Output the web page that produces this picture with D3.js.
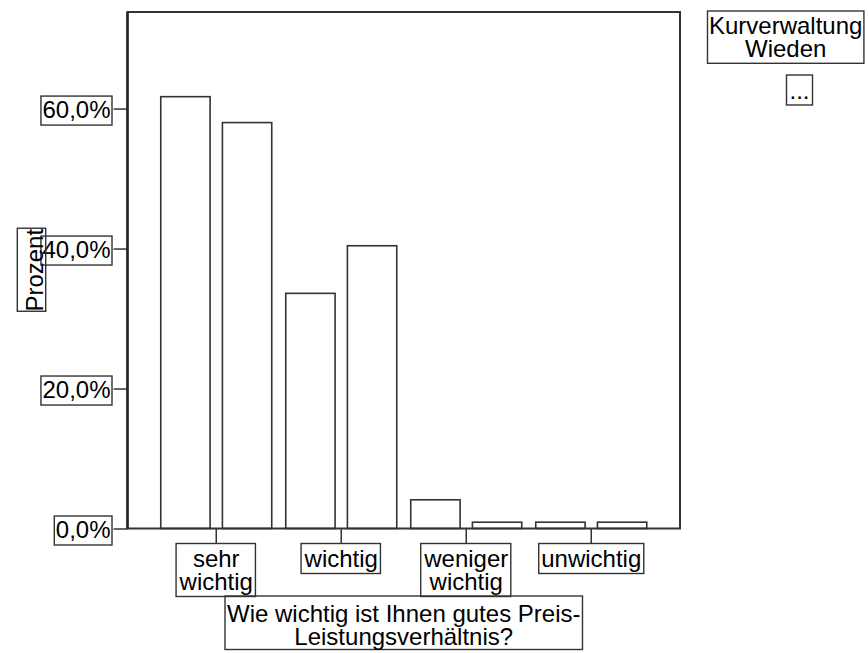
<!DOCTYPE html>
<html><head><meta charset="utf-8">
<script src="https://cdn.jsdelivr.net/npm/d3@7"></script>
<style>
html,body{margin:0;padding:0;background:#fff;}
svg{display:block;font-family:"Liberation Sans",Arial,sans-serif;}
</style></head><body>
<svg id="chart" width="868" height="653"></svg>
<script>
// ---- data ----
const categories = ["sehr wichtig", "wichtig", "weniger wichtig", "unwichtig"];
const seriesNames = ["Gruppe 1", "Gruppe 2"];
const series1 = [61.7, 33.6, 4.1, 0.9];
const series2 = [58.0, 40.4, 0.9, 0.9];
const yTicks = [0, 20, 40, 60];
const yMax = 73.8;
const yTitle = "Prozent";
const xTitleLines = ["Wie wichtig ist Ihnen gutes Preis-", "Leistungsverhältnis?"];
const legendTitleLines = ["Kurverwaltung", "Wieden"];
const legendItems = ["..."];

// ---- layout ----
const FONT = 24, INK = "#333";
const L = 127.5, R = 680, T = 12, B = 528.5;
const svg = d3.select("#chart");

const x0 = d3.scaleBand().domain(categories).range([L, R]).paddingInner(0.112).paddingOuter(0.266);
const x1 = d3.scaleBand().domain(seriesNames).range([0, x0.bandwidth()]).paddingInner(0.2);
const y = d3.scaleLinear().domain([0, yMax]).range([B, T]);

const data = categories.map((c, i) => ({
  cat: c,
  values: [{s: seriesNames[0], v: series1[i]}, {s: seriesNames[1], v: series2[i]}]
}));

// bars
svg.append("g").selectAll("g").data(data).join("g")
  .attr("transform", d => `translate(${x0(d.cat)},0)`)
  .selectAll("rect").data(d => d.values).join("rect")
  .attr("x", d => x1(d.s)).attr("y", d => y(d.v))
  .attr("width", x1.bandwidth()).attr("height", d => B - y(d.v))
  .attr("fill", "#fff").attr("stroke", INK).attr("stroke-width", 1.6);

// frame
svg.append("rect").attr("x", L).attr("y", T).attr("width", R - L).attr("height", B - T)
  .attr("fill", "none").attr("stroke", INK).attr("stroke-width", 2);
svg.append("line").attr("x1", L).attr("x2", L).attr("y1", T).attr("y2", B)
  .attr("stroke", "#222").attr("stroke-width", 2.4);

// y axis
const fmt = v => d3.format(".1f")(v).replace(".", ",") + "%";
const yAxis = svg.append("g").attr("transform", `translate(${L},0)`)
  .call(d3.axisLeft(y).tickValues(yTicks).tickSize(14).tickPadding(3).tickFormat(fmt));
yAxis.select(".domain").remove();
yAxis.selectAll(".tick line").attr("stroke", INK).attr("stroke-width", 1.5);
yAxis.selectAll(".tick text").attr("font-size", FONT).attr("font-family", "Liberation Sans, Arial, sans-serif")
  .attr("fill", "#000").attr("dy", null).attr("y", 8.6);
yAxis.selectAll(".tick").each(function() {
  const t = d3.select(this).select("text");
  const bb = t.node().getBBox();
  d3.select(this).insert("rect", "text").attr("x", bb.x - 1.5).attr("y", -13)
    .attr("width", bb.width + 3).attr("height", 29)
    .attr("fill", "none").attr("stroke", INK).attr("stroke-width", 1.4);
});

// y title
const yt = svg.append("g").attr("transform", `translate(43.3,${(T + B) / 2}) rotate(-90)`);
const ytText = yt.append("text").attr("text-anchor", "middle").attr("font-size", FONT).attr("fill", "#000").text(yTitle);
const ytw = ytText.node().getBBox().width;
yt.insert("rect", "text").attr("x", -ytw / 2 + 0.5).attr("y", -26).attr("width", ytw).attr("height", 28.4)
  .attr("fill", "none").attr("stroke", INK).attr("stroke-width", 1.4);

// x axis
const xAxis = svg.append("g").attr("transform", `translate(0,${B})`)
  .call(d3.axisBottom(x0).tickSize(15).tickFormat(d => d));
xAxis.select(".domain").remove();
xAxis.selectAll(".tick line").attr("stroke", INK).attr("stroke-width", 1.5);
xAxis.selectAll(".tick").each(function(d) {
  const g = d3.select(this);
  const t = g.select("text").text(null).attr("y", null).attr("dy", null)
    .attr("font-size", FONT).attr("font-family", "Liberation Sans, Arial, sans-serif").attr("fill", "#000");
  const lines = d.split(" ");
  lines.forEach((ln, i) => t.append("tspan").attr("x", 0).attr("y", 38.5 + i * 23).text(ln));
  const bb = t.node().getBBox();
  const bottom = 38.5 + (lines.length - 1) * 23 + 6.5;
  g.insert("rect", "text").attr("x", bb.x - 2.5).attr("y", 15)
    .attr("width", bb.width + 5).attr("height", bottom - 15)
    .attr("fill", "none").attr("stroke", INK).attr("stroke-width", 1.4);
});

// generic multi-line boxed label
function boxedLabel(lines, cx, baseline, spacing, top, bottomPad, padX) {
  const g = svg.append("g");
  const t = g.append("text").attr("text-anchor", "middle").attr("font-size", FONT).attr("fill", "#000");
  lines.forEach((ln, i) => t.append("tspan").attr("x", cx).attr("y", baseline + i * spacing).text(ln));
  const bb = t.node().getBBox();
  const bottom = baseline + (lines.length - 1) * spacing + bottomPad;
  g.insert("rect", "text").attr("x", bb.x - padX).attr("y", top)
    .attr("width", bb.width + 2 * padX).attr("height", bottom - top)
    .attr("fill", "none").attr("stroke", INK).attr("stroke-width", 1.4);
}

// x title
boxedLabel(xTitleLines, (L + R) / 2, 621.7, 22.8, 596, 5, 2);

// legend
boxedLabel(legendTitleLines, 785.7, 33.5, 23.5, 11, 6.3, 1.5);
legendItems.forEach((it, i) => boxedLabel([it], 799.5, 99 + i * 32, 23, 75 + i * 32, 6, 3));
</script>
</body></html>
